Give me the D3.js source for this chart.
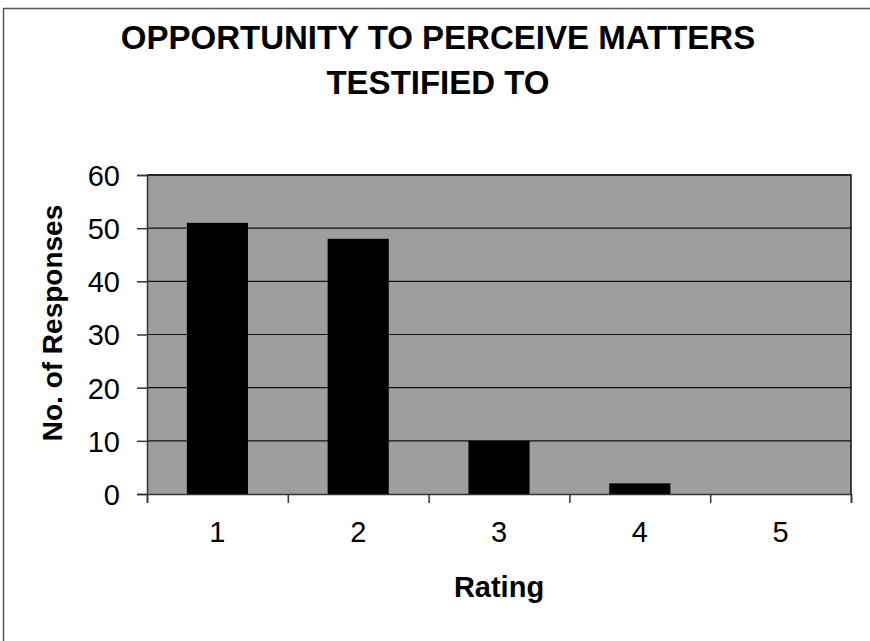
<!DOCTYPE html>
<html>
<head>
<meta charset="utf-8">
<script src="https://cdn.jsdelivr.net/npm/d3@7"></script>
<style>
  body { margin: 0; background: #fff; }
  text { font-family: Arial, "Liberation Sans", sans-serif; fill: #000; }
</style>
</head>
<body>
<script>
// chart data
var ratings = ["1", "2", "3", "4", "5"];
var responses = [51, 48, 10, 2, 0];
var yTicks = [0, 10, 20, 30, 40, 50, 60];
var titleLines = ["OPPORTUNITY TO PERCEIVE MATTERS", "TESTIFIED TO"];

var width = 870,
    height = 641;

var plot = {left: 147, right: 851, top: 175, bottom: 494};

var svg = d3.select("body").append("svg")
    .attr("width", width)
    .attr("height", height);

// outer frame (only top and left edges show in the scan)
svg.append("line")
    .attr("x1", 3.5).attr("y1", 8).attr("x2", 3.5).attr("y2", height)
    .attr("stroke", "#555").attr("stroke-width", 1.5);
svg.append("line")
    .attr("x1", 3).attr("y1", 8.5).attr("x2", width).attr("y2", 8.5)
    .attr("stroke", "#555").attr("stroke-width", 1.5);

// scales
var x = d3.scaleBand()
    .domain(ratings)
    .range([plot.left, plot.right])
    .paddingInner(0.566)
    .paddingOuter(0.283);

var xEdges = d3.scaleLinear()
    .domain([0, ratings.length])
    .range([plot.left, plot.right]);

var y = d3.scaleLinear()
    .domain([0, 60])
    .range([plot.bottom, plot.top]);

// plot area background
svg.append("rect")
    .attr("x", plot.left)
    .attr("y", plot.top)
    .attr("width", plot.right - plot.left)
    .attr("height", plot.bottom - plot.top)
    .attr("fill", "#9e9e9e");

// gridlines
svg.append("g")
  .selectAll("line")
  .data(yTicks.filter(function(d) { return d > 0; }))
  .enter().append("line")
    .attr("x1", plot.left)
    .attr("x2", plot.right)
    .attr("y1", function(d) { return y(d); })
    .attr("y2", function(d) { return y(d); })
    .attr("stroke", "#111")
    .attr("stroke-width", 1.2);

// bars
svg.append("g")
  .selectAll("rect")
  .data(responses)
  .enter().append("rect")
    .attr("x", function(d, i) { return x(ratings[i]); })
    .attr("y", function(d) { return y(d); })
    .attr("width", x.bandwidth())
    .attr("height", function(d) { return y(0) - y(d); })
    .attr("fill", "#000");

// plot border (top and right)
svg.append("path")
    .attr("d", "M" + plot.left + "," + plot.top + "H" + plot.right + "V" + plot.bottom)
    .attr("fill", "none")
    .attr("stroke", "#111")
    .attr("stroke-width", 1.5);

// y axis
var yAxis = svg.append("g")
    .attr("transform", "translate(" + plot.left + ",0)")
    .call(d3.axisLeft(y).tickValues(yTicks).tickSize(10).tickPadding(17));
yAxis.selectAll("text").style("font-size", "29px").attr("dy", "0.36em");
yAxis.selectAll("path, line").attr("stroke", "#333").attr("stroke-width", 1.5);

// x axis: ticks at category edges, labels at centres
var xTickAxis = svg.append("g")
    .attr("transform", "translate(0," + plot.bottom + ")")
    .call(d3.axisBottom(xEdges).ticks(ratings.length).tickSize(9).tickFormat(""));
xTickAxis.selectAll("path, line").attr("stroke", "#333").attr("stroke-width", 1.5);

var xLabelAxis = svg.append("g")
    .attr("transform", "translate(0," + plot.bottom + ")")
    .call(d3.axisBottom(x).tickSize(0).tickPadding(27));
xLabelAxis.select(".domain").remove();
xLabelAxis.selectAll("text").style("font-size", "29px");

// title
svg.append("g").selectAll("text")
  .data(titleLines)
  .enter().append("text")
    .attr("x", 438)
    .attr("y", function(d, i) { return 49 + i * 45; })
    .attr("text-anchor", "middle")
    .attr("font-weight", "bold")
    .style("font-size", "33px")
    .text(function(d) { return d; });

// axis titles
svg.append("text")
    .attr("x", (plot.left + plot.right) / 2)
    .attr("y", 597)
    .attr("text-anchor", "middle")
    .attr("font-weight", "bold")
    .style("font-size", "29px")
    .text("Rating");

svg.append("text")
    .attr("transform", "translate(62,323) rotate(-90)")
    .attr("text-anchor", "middle")
    .attr("font-weight", "bold")
    .style("font-size", "28px")
    .text("No. of Responses");
</script>
</body>
</html>
